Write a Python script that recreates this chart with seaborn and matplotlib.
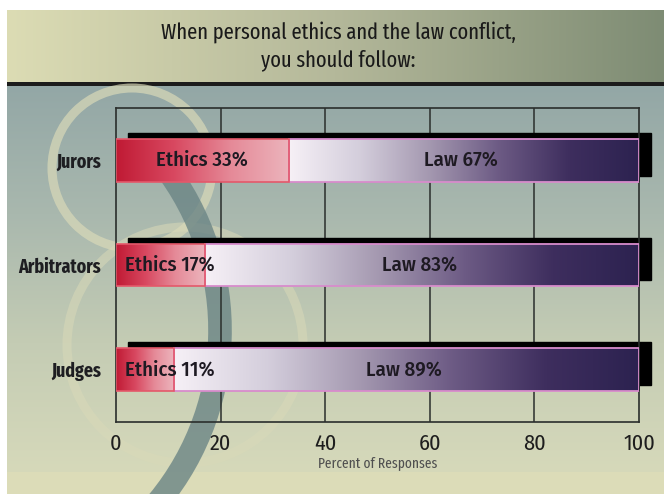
import numpy as np
import pandas as pd
import matplotlib
matplotlib.use("Agg")
import matplotlib.pyplot as plt
import seaborn as sns
from matplotlib.colors import LinearSegmentedColormap
from matplotlib.patches import Circle, Arc, Rectangle
from matplotlib.transforms import offset_copy

# ---- data -------------------------------------------------------------
groups = ["Jurors", "Arbitrators", "Judges"]
ethics = [33, 17, 11]
law = [67, 83, 89]
x_ticks = [0, 20, 40, 60, 80, 100]
title = "When personal ethics and the law conflict,\nyou should follow:"
x_label = "Percent of Responses"

df = pd.DataFrame({"group": groups, "ethics": ethics, "law": law})
df["total"] = df["ethics"] + df["law"]

# ---- style ------------------------------------------------------------
sns.set_theme(style="white")
COND = ["Fira Sans Condensed", "Fira Sans Extra Condensed", "DejaVu Sans"]
XCOND = ["Fira Sans Extra Condensed", "Fira Sans Condensed", "DejaVu Sans"]
plt.rcParams["font.family"] = COND

W, H = 664, 494
fig = plt.figure(figsize=(W / 100, H / 100), dpi=100)
fig.patch.set_facecolor("white")

# ---- backdrop (pixel coordinates) -------------------------------------
bg = fig.add_axes([0, 0, 1, 1], zorder=-10)

band_cmap = LinearSegmentedColormap.from_list("band", ["#dcdcb4", "#b4b89a", "#7e8c74"])
bg.imshow(np.linspace(0, 1, 256).reshape(1, -1), cmap=band_cmap, aspect="auto",
          extent=(7, W, 83, 10), interpolation="bicubic")
bg.add_patch(Rectangle((7, 82), W - 7, 4, color="#1c1c1c", lw=0))

panel_cmap = LinearSegmentedColormap.from_list("panel", ["#93a7a6", "#a9b8ae", "#c4ccb4", "#d6d9ba"])
bg.imshow(np.linspace(0, 1, 256).reshape(-1, 1), cmap=panel_cmap, aspect="auto",
          extent=(7, W, 472, 86), interpolation="bicubic")
bg.add_patch(Rectangle((7, 472), W - 7, H - 472, color="#dcdcb8", lw=0))

# decorative rings and swoosh
bg.add_patch(Circle((132, 168), 80, fill=False, lw=6.5, ec="#d9d9b8", alpha=0.7))
bg.add_patch(Circle((185, 345), 118, fill=False, lw=6.5, ec="#d9d9b8", alpha=0.55))
bg.add_patch(Arc((-50, 330), 540, 540, theta1=-38, theta2=42, lw=17, color="#6b8585", alpha=0.8))
bg.set_xlim(0, W)
bg.set_ylim(H, 0)
bg.axis("off")

# ---- main axes --------------------------------------------------------
ax = fig.add_axes([116 / W, 1 - 422 / H, (639 - 116) / W, (422 - 108) / H])
ax.patch.set_alpha(0)

sns.barplot(data=df, y="group", x="total", orient="h", width=0.41, ax=ax,
            color="white", saturation=1)
n = len(groups)
law_patches = list(ax.patches[:n])
sns.barplot(data=df, y="group", x="ethics", orient="h", width=0.41, ax=ax,
            color="white", saturation=1)
eth_patches = list(ax.patches[n:2 * n])

eth_cmap = LinearSegmentedColormap.from_list("eth", ["#c01a34", "#d84860", "#e58a98", "#ecb4bc"])
law_cmap = LinearSegmentedColormap.from_list(
    "law", ["#f6f0f6", "#d4cedc", "#a498b0", "#6c5a84", "#3e2e5e", "#2c2250"])

grad = np.linspace(0, 1, 256).reshape(1, -1)
shadow_tr = offset_copy(ax.transData, fig=fig, x=12, y=6, units="dots")

for lp, ep, e in zip(law_patches, eth_patches, ethics):
    x0, y0, w, h = lp.get_x(), lp.get_y(), lp.get_width(), lp.get_height()
    # drop shadow behind each bar
    ax.add_patch(Rectangle((x0, y0), w, h, transform=shadow_tr, color="black",
                           zorder=1.5, clip_on=False))
    # law segment starts where ethics ends
    lp.set_x(e)
    lp.set_width(w - e)
    ax.imshow(grad, cmap=law_cmap, aspect="auto", interpolation="bicubic",
              extent=(e, x0 + w, y0 + h, y0), zorder=2).set_clip_path(lp)
    lp.set_facecolor("none")
    lp.set_edgecolor("#d88ccc")
    lp.set_linewidth(1.3)
    lp.set_zorder(3)

    ex, ew = ep.get_x(), ep.get_width()
    ax.imshow(grad, cmap=eth_cmap, aspect="auto", interpolation="bicubic",
              extent=(ex, ex + ew, y0 + h, y0), zorder=2).set_clip_path(ep)
    ep.set_facecolor("none")
    ep.set_edgecolor("#e4586a")
    ep.set_linewidth(1.2)
    ep.set_zorder(3.1)

# value labels inside the bars
for i, (e, l) in enumerate(zip(ethics, law)):
    ax.text(max(e / 2, 10.3), i, f"Ethics {e}%", ha="center", va="center",
            fontsize=15, fontweight="medium", color="#1e1a22", zorder=5)
    ax.text(e + l / 2 - 0.5, i, f"Law {l}%", ha="center", va="center",
            fontsize=15, fontweight="medium", color="#1e1a22", zorder=5)

# grid and frame
for xv in x_ticks[1:-1]:
    ax.axvline(xv, color="#2a2e2c", lw=1.1, zorder=1)
for s in ax.spines.values():
    s.set_visible(True)
    s.set_color("#2a2e2c")
    s.set_linewidth(1.2)

ax.set_xlim(0, 100)
ax.set_ylim(n - 0.5, -0.5)
ax.set_xticks(x_ticks)
ax.set_xticklabels([str(t) for t in x_ticks], fontsize=16, color="#1e1e1e")
ax.set_yticks(range(n))
ax.set_yticklabels(groups, fontsize=14, fontweight="bold", color="#1e1e22",
                   family=XCOND)
ax.tick_params(axis="x", length=0, pad=8)
ax.tick_params(axis="y", length=0, pad=11)
ax.set_xlabel(x_label, fontsize=10.5, color="#505050", labelpad=1, family=XCOND)
ax.set_ylabel("")

fig.text(338 / W, 1 - 46 / H, title, ha="center", va="center", fontsize=16,
         color="#1a1a1a", linespacing=1.4, family=XCOND, fontweight="normal")

fig.savefig("out.png", dpi=100)
